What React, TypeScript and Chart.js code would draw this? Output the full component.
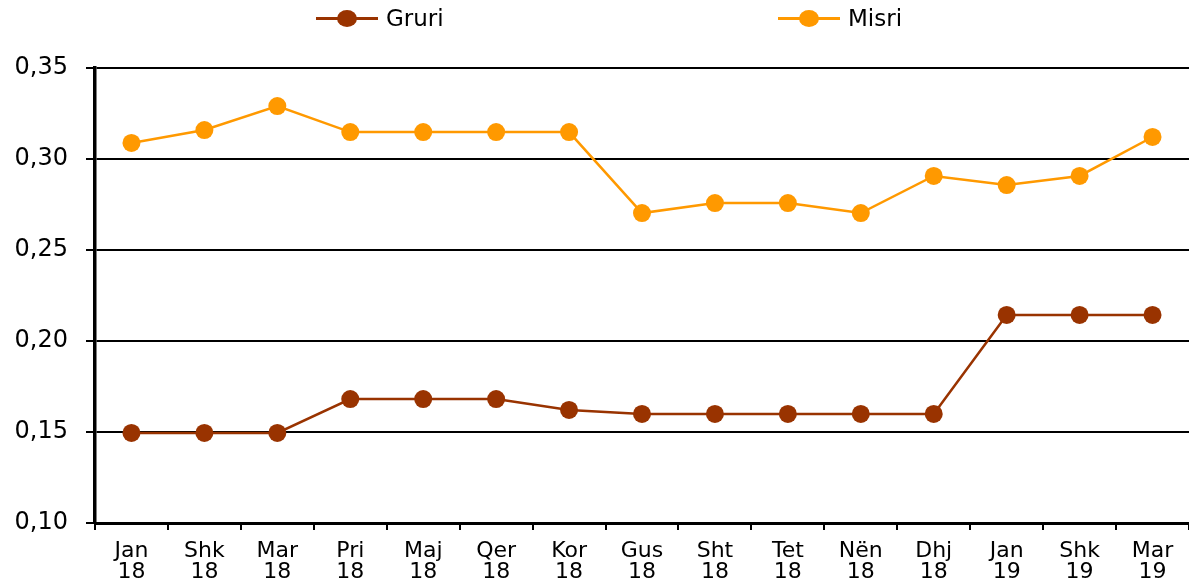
import React, { useEffect, useRef } from "react";
import { Chart, registerables } from "chart.js";

Chart.register(...registerables);

const categories: string[][] = [
  ["Jan", "18"], ["Shk", "18"], ["Mar", "18"], ["Pri", "18"], ["Maj", "18"],
  ["Qer", "18"], ["Kor", "18"], ["Gus", "18"], ["Sht", "18"], ["Tet", "18"],
  ["Nën", "18"], ["Dhj", "18"], ["Jan", "19"], ["Shk", "19"], ["Mar", "19"],
];
const gruri: number[] = [0.1495, 0.1495, 0.1495, 0.1681, 0.1681, 0.1681, 0.1621, 0.1599, 0.1599, 0.1599, 0.1599, 0.1599, 0.2143, 0.2143, 0.2143];
const misri: number[] = [0.3088, 0.3159, 0.3291, 0.3148, 0.3148, 0.3148, 0.3148, 0.2703, 0.2758, 0.2758, 0.2703, 0.2907, 0.2857, 0.2907, 0.3121];
const yTicks: number[] = [0.1, 0.15, 0.2, 0.25, 0.3, 0.35];

const GRURI_COLOR = "#993300";
const MISRI_COLOR = "#FF9900";
const FONT = "'DejaVu Sans', sans-serif";

function LegendItem({ left, color, label }: { left: number; color: string; label: string }) {
  return (
    <div style={{ position: "absolute", left, top: 6, height: 24, display: "flex", alignItems: "center" }}>
      <div style={{ position: "relative", width: 62, height: 24 }}>
        <div style={{ position: "absolute", left: 0, top: 11, width: 62, height: 3, background: color }} />
        <div style={{ position: "absolute", left: 21, top: 4, width: 20, height: 17, borderRadius: "50%", background: color }} />
      </div>
      <span style={{ marginLeft: 8, fontFamily: FONT, fontSize: 23, color: "#000", lineHeight: "24px" }}>{label}</span>
    </div>
  );
}

export default function App() {
  const ref = useRef<HTMLCanvasElement>(null);
  useEffect(() => {
    if (!ref.current) return;
    const chart = new Chart(ref.current, {
      type: "line",
      data: {
        labels: categories,
        datasets: [
          {
            label: "Gruri", data: gruri, borderColor: GRURI_COLOR, backgroundColor: GRURI_COLOR,
            borderWidth: 2.5, pointRadius: 9, pointHoverRadius: 9, pointBorderWidth: 0, tension: 0,
          },
          {
            label: "Misri", data: misri, borderColor: MISRI_COLOR, backgroundColor: MISRI_COLOR,
            borderWidth: 2.5, pointRadius: 9, pointHoverRadius: 9, pointBorderWidth: 0, tension: 0,
          },
        ],
      },
      options: {
        animation: false,
        responsive: false,
        maintainAspectRatio: false,
        layout: { autoPadding: false, padding: { top: 68, right: 0, left: 0, bottom: 0 } },
        plugins: { legend: { display: false }, tooltip: { enabled: false } },
        scales: {
          x: {
            type: "category",
            offset: true,
            grid: { offset: true, drawOnChartArea: false, drawTicks: true, tickLength: 7, color: "#000", lineWidth: 2 },
            border: { color: "#000", width: 3 },
            ticks: { color: "#000", font: { family: FONT, size: 22, lineHeight: 0.95 }, padding: 11, maxRotation: 0, autoSkip: false },
            afterFit: (s: any) => { s.height = 65; },
          },
          y: {
            min: 0.1,
            max: 0.35,
            afterBuildTicks: (s: any) => { s.ticks = yTicks.map((v) => ({ value: v })); },
            grid: { color: "#000", lineWidth: 2, tickLength: 9 },
            border: { color: "#000", width: 3.5 },
            ticks: {
              color: "#000", font: { family: FONT, size: 24 }, padding: 18,
              callback: (v: any) => Number(v).toFixed(2).replace(".", ","),
            },
            afterFit: (s: any) => { s.width = 95; },
          },
        },
      },
    });
    return () => chart.destroy();
  }, []);
  return (
    <div style={{ position: "absolute", left: 0, top: 0, width: 1189, height: 588, background: "#fff" }}>
      <canvas ref={ref} width={1189} height={588} style={{ position: "absolute", left: 0, top: 0 }} />
      <LegendItem left={316} color={GRURI_COLOR} label="Gruri" />
      <LegendItem left={778} color={MISRI_COLOR} label="Misri" />
    </div>
  );
}
